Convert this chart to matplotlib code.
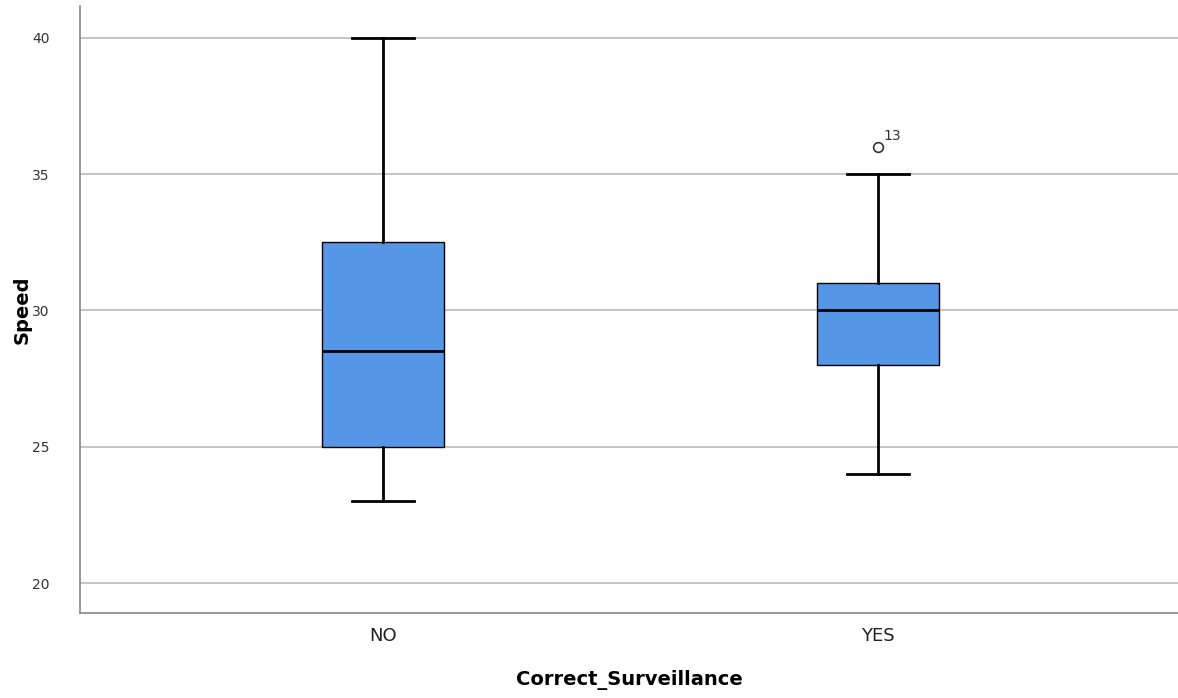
import matplotlib
matplotlib.use("Agg")
import matplotlib.pyplot as plt

categories = ["NO", "YES"]
whislo = [23, 24]
q1 = [25, 28]
med = [28.5, 30]
q3 = [32.5, 31]
whishi = [40, 35]
fliers = [[], [36]]
flier_labels = [[], ["13"]]
yticks = [20, 25, 30, 35, 40]

fig = plt.figure(figsize=(11.78, 6.98), dpi=100)
ax = fig.add_axes([80/1178, 85/698, 1098/1178, 607/698])

stats = []
for i, c in enumerate(categories):
    stats.append(dict(label=c, whislo=whislo[i], q1=q1[i], med=med[i],
                      q3=q3[i], whishi=whishi[i], fliers=fliers[i]))

positions = list(range(len(categories)))
ax.bxp(stats, positions=positions, widths=0.248, patch_artist=True,
       boxprops=dict(facecolor="#5596E6", edgecolor="black", linewidth=1),
       medianprops=dict(color="black", linewidth=2),
       whiskerprops=dict(color="black", linewidth=2),
       capprops=dict(color="black", linewidth=2),
       capwidths=0.125,
       flierprops=dict(marker="o", markerfacecolor="white", markeredgecolor="#333333",
                       markersize=7, markeredgewidth=1.2),
       zorder=3)

for i in positions:
    for v, lab in zip(fliers[i], flier_labels[i]):
        ax.annotate(lab, (i, v), xytext=(4, 3), textcoords="offset points",
                    fontsize=10, color="#333333", ha="left", va="bottom")

ax.set_xlim(-0.612, 1.606)
ax.set_ylim(18.9, 41.17)
ax.set_yticks(yticks)
ax.set_yticklabels([str(t) for t in yticks], fontsize=10, color="#333333")
ax.set_xticks(positions)
ax.set_xticklabels(categories, fontsize=13, color="#222222")
ax.tick_params(axis="both", length=0)
ax.tick_params(axis="y", pad=22)
ax.tick_params(axis="x", pad=10)
ax.yaxis.grid(True, color="#bbbbbb", linewidth=1.2, zorder=0)
ax.set_axisbelow(True)
for s in ["top", "right"]:
    ax.spines[s].set_visible(False)
for s in ["left", "bottom"]:
    ax.spines[s].set_color("#888888")
    ax.spines[s].set_linewidth(1.2)

ax.set_ylabel("Speed", fontsize=14, fontweight="bold")
ax.yaxis.set_label_coords(-0.0528, 0.5)
ax.set_xlabel("Correct_Surveillance", fontsize=14, fontweight="bold")
ax.xaxis.set_label_coords(0.5, -0.110)
ax.xaxis.label.set_va("center")
ax.yaxis.label.set_va("center")

fig.savefig("out.png", dpi=100)
